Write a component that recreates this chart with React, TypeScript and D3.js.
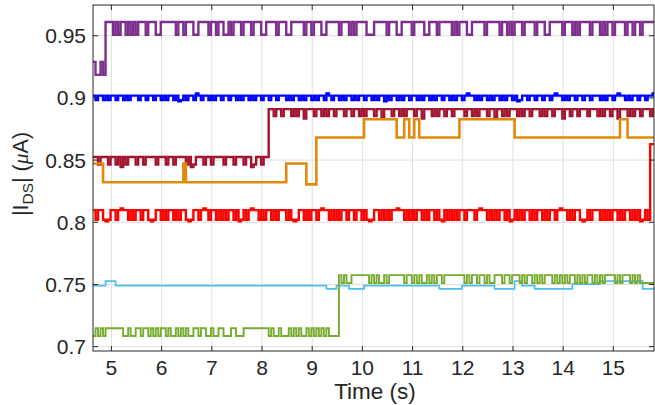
import React from 'react';
import * as d3 from 'd3';

const W = 655;
const H = 405;
const PLOT = { left: 93, right: 654, top: 5, bottom: 351 };
const X_DOMAIN: [number, number] = [4.633, 15.81];
const Y_DOMAIN: [number, number] = [0.6965, 0.9747];
const T0 = 4.633;
const DT = 0.05;

const xTicks = [5, 6, 7, 8, 9, 10, 11, 12, 13, 14, 15];
const xTickLabels = ['5', '6', '7', '8', '9', '10', '11', '12', '13', '14', '15'];
const yTicks = [0.7, 0.75, 0.8, 0.85, 0.9, 0.95];
const yTickLabels = ['0.7', '0.75', '0.8', '0.85', '0.9', '0.95'];

// Level maps (µA) per series
const purpleLevels: Record<string, number> = { a: 0.929, b: 0.9185, '1': 0.961, '0': 0.9508, '2': 0.9565 };
const blueLevels: Record<string, number> = { '1': 0.9018, '0': 0.8982, '2': 0.9035, '3': 0.8972 };
const darkRedLevels: Record<string, number> = { '1': 0.8525, '0': 0.8465, '2': 0.8445, H: 0.891, L: 0.8855, M: 0.8835 };
const orangeLevels: Record<string, number> = { a: 0.8472, b: 0.8322, c: 0.8305, d: 0.8682, e: 0.8828 };
const redLevels: Record<string, number> = { '1': 0.8098, '0': 0.802, '2': 0.8112, '3': 0.8008, z: 0.8628 };
const lightBlueLevels: Record<string, number> = { n: 0.749, u: 0.7527, d: 0.7465, m: 0.7503 };
const greenLevels: Record<string, number> = { '0': 0.7086, '1': 0.7148, H: 0.7575, L: 0.7512 };

// State sequences, one character per 0.05 s step
const purplePattern = [
  'abbab',
  '1110101101010111011100111',
  '1110110111001111011011001',
  '0111011101110011110111001',
  '1111011011100111110111010',
  '1111000111110111001111011',
  '1100111011111010111001111',
  '1011111011010111011110111',
  '0011111011101011110111010',
  '1101111011',
  '011011111',
].join('');

const bluePattern = [
  '1011010110110101110110110',
  '1101011013010110210110101',
  '1011011010110101101101101',
  '1101011010110101102101101',
  '0110101101101011310110101',
  '1011010110101101101011012',
  '1101011010110101101301101',
  '1011011012110101101101101',
  '1101011012110101101101121',
].join('');

const darkRedPattern = [
  '1101110110121011101101111',
  '0111011011110120111011011',
  '11011101110112011011',
  'HHLHHLHHHLHLHHMHHHLHHLHLH',
  'HLHHHLHHLHHLHLHHHLHHMHHHL',
  'HHLHLHHHLHHMHHHLHLHHLHHLH',
  'HHHLHHLHLHHHLHHMHHLHLHHHL',
  'HLHHLHHHLHLHHLHHHMHHLHHLH',
  'HHLHHHLHLHHLHHMHHHLHLHHLH',
  'HHLH',
].join('');

const orangeRuns: [string, number][] = [
  ['a', 4], ['b', 32], ['a', 1], ['b', 40], ['a', 8], ['c', 4], ['d', 19], ['e', 13],
  ['d', 3], ['e', 2], ['d', 2], ['e', 2], ['d', 16], ['e', 22], ['d', 42], ['e', 3], ['d', 11],
];

const redPattern = [
  '1011030110121101011011030',
  '1101011010110301101210110',
  '1010110130101211010110101',
  '1101030110101101211010101',
  '1011011010301101010112110',
  '1010110101101031010101101',
  '1101211010101101301010110',
  '1011010110121101011030101',
  '1101010110101101013010',
  'zz',
].join('');

const lightBlueRuns: [string, number][] = [
  ['n', 5], ['u', 4], ['n', 84], ['d', 4], ['n', 5], ['d', 6], ['n', 30], ['d', 9],
  ['n', 13], ['d', 8], ['u', 3], ['n', 5], ['d', 15], ['m', 11], ['u', 17], ['d', 5],
];

const greenPattern = [
  '0', '1010', '1111111', '00', '1', '00', '11', '0', '11', '0', '1', '0', '1', '0', '11',
  '0', '1', '00', '1', '0', '1', '0', '1', '00', '11', '0', '11', '00', '1', '00', '11',
  '0', '00', '11', '000', '1111111111', '0', '1', '00', '1', '000', '1', '0', '1', '0',
  '1', '00', '1', '0', '1', '0', '1', '0', '1', '010000',
  'HLHLLHHHHHHHLHLHLLHLHHHHH',
  'HLHHLHLHLLHLHLHHLHHHHHHHH',
  'LHLHHLHHLHLLHHHLHHLHHHLHL',
  'HHLHLHLHHHLHLHLHLHHLHLHLH',
  'HLHLHLHHHHLHLHHHLHLHL',
  'LLLLLH',
].join('');

function runsToPattern(runs: [string, number][]): string {
  return runs.map(([c, n]) => c.repeat(n)).join('');
}

interface Series {
  name: string;
  color: string;
  width: number;
  levels: Record<string, number>;
  pattern: string;
}

const seriesList: Series[] = [
  { name: 'purple', color: '#7E2F8E', width: 2.4, levels: purpleLevels, pattern: purplePattern },
  { name: 'blue', color: '#0000FF', width: 2.4, levels: blueLevels, pattern: bluePattern },
  { name: 'darkred', color: '#A2142F', width: 2.4, levels: darkRedLevels, pattern: darkRedPattern },
  { name: 'orange', color: '#E08A0C', width: 2.6, levels: orangeLevels, pattern: runsToPattern(orangeRuns) },
  { name: 'red', color: '#FF0000', width: 2.4, levels: redLevels, pattern: redPattern },
  { name: 'lightblue', color: '#4DBEEE', width: 1.7, levels: lightBlueLevels, pattern: runsToPattern(lightBlueRuns) },
  { name: 'green', color: '#77AC30', width: 1.9, levels: greenLevels, pattern: greenPattern },
];

function toPoints(s: Series): [number, number][] {
  const pts: [number, number][] = [];
  const chars = s.pattern.split('');
  chars.forEach((c, i) => {
    const t = T0 + i * DT;
    if (t <= X_DOMAIN[1]) pts.push([t, s.levels[c]]);
  });
  const last = pts[pts.length - 1];
  pts.push([X_DOMAIN[1] + 0.05, last[1]]);
  return pts;
}

export default function App() {
  const x = d3.scaleLinear().domain(X_DOMAIN).range([PLOT.left, PLOT.right]);
  const y = d3.scaleLinear().domain(Y_DOMAIN).range([PLOT.bottom, PLOT.top]);
  const line = d3
    .line<[number, number]>()
    .x((d) => x(d[0]))
    .y((d) => y(d[1]))
    .curve(d3.curveStepAfter);

  const axisColor = '#262626';
  const gridColor = '#E0E0E0';
  const font = "'Liberation Sans', Arial, Helvetica, sans-serif";
  const tickLen = 5;

  return (
    <svg
      width={W}
      height={H}
      style={{ position: 'absolute', left: 0, top: 0, background: '#fff' }}
      fontFamily={font}
    >
      <defs>
        <clipPath id="plotClip">
          <rect x={PLOT.left} y={PLOT.top} width={PLOT.right - PLOT.left} height={PLOT.bottom - PLOT.top} />
        </clipPath>
      </defs>
      <rect x={0} y={0} width={W} height={H} fill="#fff" />
      {/* grid */}
      <g stroke={gridColor} strokeWidth={1}>
        {xTicks.map((t) => (
          <line key={'gx' + t} x1={x(t)} x2={x(t)} y1={PLOT.top} y2={PLOT.bottom} />
        ))}
        {yTicks.map((t) => (
          <line key={'gy' + t} x1={PLOT.left} x2={PLOT.right} y1={y(t)} y2={y(t)} />
        ))}
      </g>
      {/* data */}
      <g clipPath="url(#plotClip)" fill="none" strokeLinejoin="miter">
        {seriesList.map((s) => (
          <path key={s.name} d={line(toPoints(s)) || ''} stroke={s.color} strokeWidth={s.width} />
        ))}
      </g>
      {/* axes box */}
      <g stroke={axisColor} strokeWidth={1} fill="none">
        <rect x={PLOT.left} y={PLOT.top} width={PLOT.right - PLOT.left} height={PLOT.bottom - PLOT.top} />
        {xTicks.map((t) => (
          <g key={'tx' + t}>
            <line x1={x(t)} x2={x(t)} y1={PLOT.bottom} y2={PLOT.bottom - tickLen} />
            <line x1={x(t)} x2={x(t)} y1={PLOT.top} y2={PLOT.top + tickLen} />
          </g>
        ))}
        {yTicks.map((t) => (
          <g key={'ty' + t}>
            <line x1={PLOT.left} x2={PLOT.left + tickLen} y1={y(t)} y2={y(t)} />
            <line x1={PLOT.right} x2={PLOT.right - tickLen} y1={y(t)} y2={y(t)} />
          </g>
        ))}
      </g>
      {/* tick labels */}
      <g fill={axisColor} fontSize={21}>
        {xTicks.map((t, i) => (
          <text key={'lx' + t} x={x(t)} y={375} textAnchor="middle">
            {xTickLabels[i]}
          </text>
        ))}
        {yTicks.map((t, i) => (
          <text key={'ly' + t} x={86} y={y(t) + 7.5} textAnchor="end">
            {yTickLabels[i]}
          </text>
        ))}
      </g>
      {/* axis labels */}
      <text x={375} y={399} textAnchor="middle" fontSize={22.5} fill={axisColor}>
        Time (s)
      </text>
      <text transform="translate(28,174) rotate(-90)" textAnchor="middle" fontSize={21.5} fill={axisColor}>
        |I
        <tspan fontSize={15.5} dy={5}>
          DS
        </tspan>
        <tspan dy={-5}>| (</tspan>
        <tspan fontFamily="'Liberation Serif', 'DejaVu Serif', serif" fontStyle="italic">
          μ
        </tspan>
        <tspan>A)</tspan>
      </text>
    </svg>
  );
}
